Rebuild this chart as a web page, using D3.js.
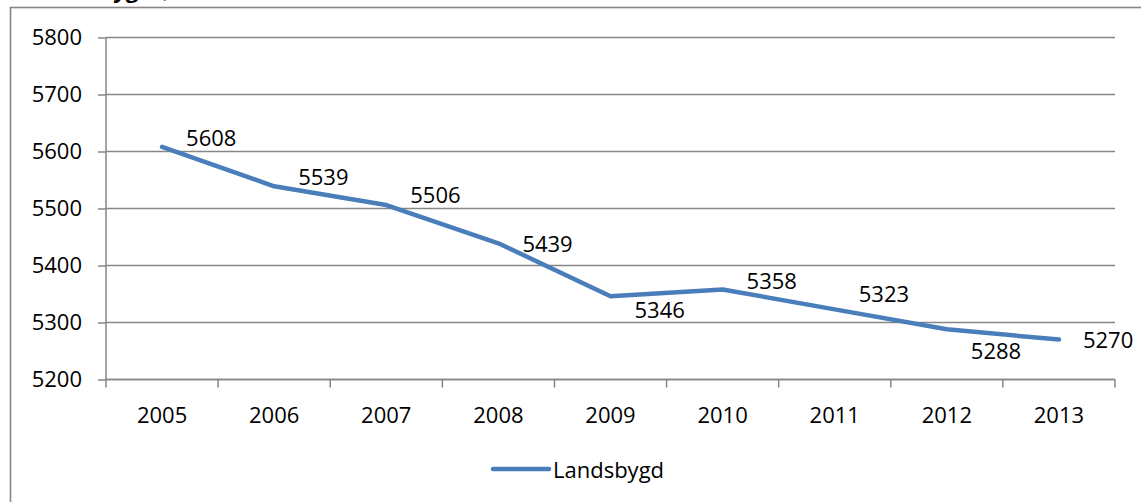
<!DOCTYPE html>
<html>
<head>
<meta charset="utf-8">
<script src="https://cdn.jsdelivr.net/npm/d3@7"></script>
<style>
  body { margin: 0; background: #fff; }
  svg { display: block; font-family: "Open Sans", "Liberation Sans", sans-serif; }
</style>
</head>
<body>
<svg id="chart"></svg>
<script>
// data
const years = ["2005", "2006", "2007", "2008", "2009", "2010", "2011", "2012", "2013"]
const landsbygd = [5608, 5539, 5506, 5439, 5346, 5358, 5323, 5288, 5270]
const yTicks = [5200, 5300, 5400, 5500, 5600, 5700, 5800]
const seriesName = "Landsbygd"
// vertical nudge of the value labels (px), like they were moved by hand in the original
const labelNudge = [-9, -9, -10, 1, 14, -8, -15, 22, 0]

let width = 1141
let height = 502
let plotLeft = 106, plotRight = 1115, plotTop = 37.5, plotBottom = 379.5
let grey = "#868686"
let blue = "#4a7ebb"

let svg = d3.select("#chart").attr("width", width).attr("height", height)

// frame of the chart (goes past the edges of the picture)
svg.append("rect")
    .attr("x", 10.5).attr("y", 7.5)
    .attr("width", 1200).attr("height", 600)
    .attr("fill", "none").attr("stroke", grey).attr("stroke-width", 1.6)

// title, mostly cut off at the top
svg.append("text")
    .attr("x", 152).attr("y", -2)
    .attr("text-anchor", "end")
    .style("font-weight", "bold").style("font-size", "22px")
    .text("Landsbygd")
svg.append("text")
    .attr("x", 160).attr("y", -2)
    .style("font-size", "22px").attr("fill", "#666")
    .text("(")

let xScale = d3.scaleBand().domain(years).range([plotLeft, plotRight])
let yScale = d3.scaleLinear().domain([5200, 5800]).range([plotBottom, plotTop])

// horizontal gridlines
svg.append("g")
    .selectAll("line")
    .data(yTicks)
    .enter()
    .append("line")
    .attr("x1", plotLeft).attr("x2", plotRight)
    .attr("y1", d => yScale(d)).attr("y2", d => yScale(d))
    .attr("stroke", grey).attr("stroke-width", 1.5)

// y axis
let yAxis = d3.axisLeft(yScale).tickValues(yTicks).tickSize(8).tickFormat(d3.format("d"))
let yg = svg.append("g")
    .attr("transform", "translate(" + plotLeft + ",0)")
    .call(yAxis)
yg.selectAll("path, line").attr("stroke", grey).attr("stroke-width", 1.5)
yg.select(".domain").attr("d", "M0," + plotTop + "V" + plotBottom)
yg.selectAll("text")
    .style("font-size", "22px").style("font-family", "Open Sans").attr("fill", "#000")
    .attr("x", -24)

// x axis, ticks between categories
let xg = svg.append("g").attr("transform", "translate(0," + plotBottom + ")")
xg.append("line")
    .attr("x1", plotLeft).attr("x2", plotRight)
    .attr("stroke", grey).attr("stroke-width", 1.5)
let bounds = years.map(d => xScale(d)).concat([plotRight])
xg.selectAll(".tick")
    .data(bounds)
    .enter()
    .append("line")
    .attr("class", "tick")
    .attr("x1", d => d).attr("x2", d => d)
    .attr("y1", 0).attr("y2", 8)
    .attr("stroke", grey).attr("stroke-width", 1.5)
xg.selectAll(".lbl")
    .data(years)
    .enter()
    .append("text")
    .attr("class", "lbl")
    .attr("x", d => xScale(d) + xScale.bandwidth() / 2)
    .attr("y", 43)
    .attr("text-anchor", "middle")
    .style("font-size", "22px")
    .text(d => d)

// the line
let pts = years.map((y, i) => ({ year: y, value: landsbygd[i], i: i }))
let cx = d => xScale(d.year) + xScale.bandwidth() / 2

let line = d3.line().x(cx).y(d => yScale(d.value))
svg.append("path")
    .datum(pts)
    .attr("d", line)
    .attr("fill", "none")
    .attr("stroke", blue)
    .attr("stroke-width", 4.5)
    .attr("stroke-linejoin", "round")
    .attr("stroke-linecap", "round")

// value labels
svg.selectAll(".val")
    .data(pts)
    .enter()
    .append("text")
    .attr("class", "val")
    .attr("x", d => cx(d) + 24)
    .attr("y", d => yScale(d.value) + 8 + labelNudge[d.i])
    .style("font-size", "22px")
    .text(d => d.value)

// legend
let lg = svg.append("g").attr("transform", "translate(493,469)")
lg.append("line")
    .attr("x1", 0).attr("x2", 56)
    .attr("stroke", blue).attr("stroke-width", 4.5).attr("stroke-linecap", "round")
lg.append("text")
    .attr("x", 60).attr("y", 9)
    .style("font-size", "22px")
    .text(seriesName)
</script>
</body>
</html>
